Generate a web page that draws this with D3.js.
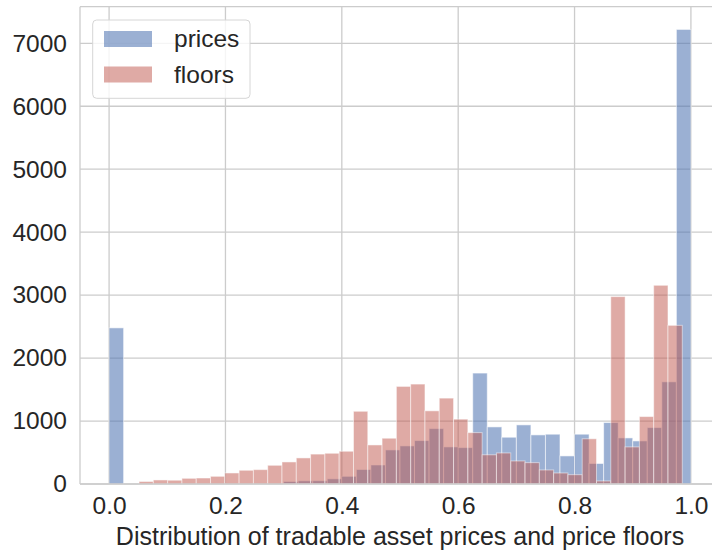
<!DOCTYPE html>
<html>
<head>
<meta charset="utf-8">
<script src="https://cdn.jsdelivr.net/npm/d3@7"></script>
<style>
  html, body { margin: 0; padding: 0; background: #ffffff; }
  svg { display: block; }
  text { font-family: "Liberation Sans", Arial, sans-serif; fill: #262626; }
</style>
</head>
<body>
<svg id="chart" width="712" height="551"></svg>
<script>
// ---- data ----
const seriesNames = ["prices", "floors"];
const xTicks = [0.0, 0.2, 0.4, 0.6, 0.8, 1.0];
const xTickLabels = ["0.0", "0.2", "0.4", "0.6", "0.8", "1.0"];
const yTicks = [0, 1000, 2000, 3000, 4000, 5000, 6000, 7000];
const yTickLabels = ["0", "1000", "2000", "3000", "4000", "5000", "6000", "7000"];
const xLabel = "Distribution of tradable asset prices and price floors";

// prices histogram: 40 bins over [0, 1]
const priceBinStart = 0.0;
const priceBinWidth = 0.025;
const priceCounts = [
  2480, 0, 0, 0, 0, 0, 0, 0, 0, 0,
  0, 0, 40, 50, 52, 82, 122, 230, 302, 541,
  605, 690, 880, 589, 578, 1762, 907, 743, 939, 780,
  791, 446, 791, 326, 976, 732, 684, 896, 1623, 7220
];

// floors histogram: 38 bins
const floorBinStart = 0.0515;
const floorBinWidth = 0.02457;
const floorCounts = [
  40, 64, 60, 90, 95, 122, 175, 218, 228, 297,
  350, 414, 475, 488, 520, 1155, 620, 727, 1550, 1587,
  1162, 1364, 1030, 816, 464, 493, 366, 339, 223, 175,
  148, 718, 48, 2976, 589, 1071, 3156, 2520
];

// ---- layout ----
const svg = d3.select("#chart");
const plotLeft = 80, plotRight = 720, plotTop = 6.7, plotBottom = 484;
const x = d3.scaleLinear().domain([-0.05, 1.05]).range([plotLeft, plotRight]);
const yMax = d3.max(priceCounts.concat(floorCounts)) * 1.05;
const y = d3.scaleLinear().domain([0, yMax]).range([plotBottom, plotTop]);

const gridColor = "#cccccc";

// grid
const g = svg.append("g");
g.append("g").selectAll("line").data(yTicks).join("line")
  .attr("x1", plotLeft).attr("x2", plotRight)
  .attr("y1", d => y(d)).attr("y2", d => y(d))
  .attr("stroke", gridColor).attr("stroke-width", 1.3);
g.append("g").selectAll("line").data(xTicks).join("line")
  .attr("x1", d => x(d)).attr("x2", d => x(d))
  .attr("y1", plotTop).attr("y2", plotBottom)
  .attr("stroke", gridColor).attr("stroke-width", 1.3);

// bars
function binsOf(start, width, counts) {
  return counts.map((c, i) => ({ x0: start + i * width, x1: start + (i + 1) * width, v: c }));
}
const priceBins = binsOf(priceBinStart, priceBinWidth, priceCounts).filter(d => d.v > 0);
const floorBins = binsOf(floorBinStart, floorBinWidth, floorCounts).filter(d => d.v > 0);

const blue = "#4c72b0", red = "#c0564b";
const blueAlpha = 0.56, redAlpha = 0.5;

g.append("g").selectAll("rect").data(priceBins).join("rect")
  .attr("x", d => x(d.x0)).attr("width", d => x(d.x1) - x(d.x0))
  .attr("y", d => y(d.v)).attr("height", d => y(0) - y(d.v))
  .attr("fill", blue).attr("fill-opacity", blueAlpha)
  .attr("stroke", "#ffffff").attr("stroke-width", 1).attr("stroke-opacity", blueAlpha);

g.append("g").selectAll("rect").data(floorBins).join("rect")
  .attr("x", d => x(d.x0)).attr("width", d => x(d.x1) - x(d.x0))
  .attr("y", d => y(d.v)).attr("height", d => y(0) - y(d.v))
  .attr("fill", red).attr("fill-opacity", redAlpha)
  .attr("stroke", "#ffffff").attr("stroke-width", 1).attr("stroke-opacity", redAlpha);

// spines
svg.append("line").attr("x1", plotLeft).attr("x2", plotLeft).attr("y1", plotTop).attr("y2", plotBottom)
  .attr("stroke", gridColor).attr("stroke-width", 1.3);
svg.append("line").attr("x1", plotLeft).attr("x2", plotRight).attr("y1", plotTop).attr("y2", plotTop)
  .attr("stroke", gridColor).attr("stroke-width", 1.3);
svg.append("line").attr("x1", plotLeft).attr("x2", plotRight).attr("y1", plotBottom).attr("y2", plotBottom)
  .attr("stroke", gridColor).attr("stroke-width", 1.6);

// axes (labels via d3 axes, domain/tick lines hidden)
const xAxis = d3.axisBottom(x).tickValues(xTicks).tickFormat((d, i) => xTickLabels[i]).tickSize(0).tickPadding(13);
const xg = svg.append("g").attr("transform", `translate(0,${plotBottom})`).call(xAxis);
xg.select(".domain").remove();
xg.selectAll("text").style("font-size", "24.5px").style("font-family", "Liberation Sans, Arial, sans-serif").attr("fill", "#262626");

const yAxis = d3.axisLeft(y).tickValues(yTicks).tickFormat((d, i) => yTickLabels[i]).tickSize(0).tickPadding(13);
const yg = svg.append("g").attr("transform", `translate(${plotLeft},0)`).call(yAxis);
yg.select(".domain").remove();
yg.selectAll("text").style("font-size", "24.5px").style("font-family", "Liberation Sans, Arial, sans-serif").attr("fill", "#262626");

// x label
svg.append("text").attr("x", 400).attr("y", 545)
  .attr("text-anchor", "middle").style("font-size", "25px").text(xLabel);

// legend
const lg = svg.append("g");
lg.append("rect").attr("x", 92.7).attr("y", 20).attr("width", 157.3).attr("height", 78.3)
  .attr("rx", 4).attr("fill", "#ffffff").attr("fill-opacity", 0.8)
  .attr("stroke", "#d6d6d6").attr("stroke-width", 1);
const legendItems = [
  { name: seriesNames[0], color: blue, alpha: blueAlpha, cy: 39 },
  { name: seriesNames[1], color: red, alpha: redAlpha, cy: 74.5 }
];
legendItems.forEach(it => {
  lg.append("rect").attr("x", 104).attr("y", it.cy - 8).attr("width", 48).attr("height", 16)
    .attr("fill", it.color).attr("fill-opacity", it.alpha);
  lg.append("text").attr("x", 174).attr("y", it.cy + 8).style("font-size", "24.5px").text(it.name);
});
</script>
</body>
</html>
